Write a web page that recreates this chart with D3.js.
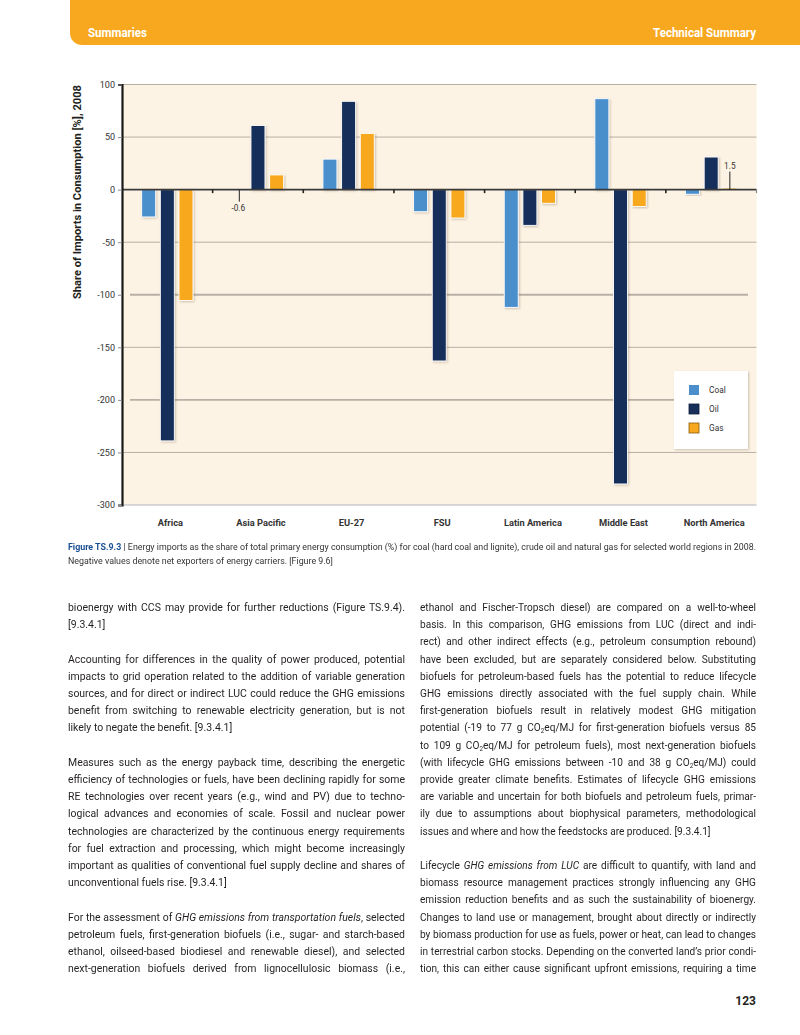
<!DOCTYPE html>
<html><head><meta charset="utf-8">
<script src="https://cdn.jsdelivr.net/npm/d3@7"></script>
<style>
html,body{margin:0;padding:0;background:#fff;}
body{width:800px;height:1035px;position:relative;overflow:hidden;}
#chart{position:absolute;left:0;top:0;}
.txt{position:absolute;font-family:Roboto,"Noto Sans",sans-serif;color:#231f20;transform-origin:0 0;}
.txt div{white-space:nowrap;}
.col{font-size:11.3px;line-height:17.2px;}
.cap{font-size:9px;line-height:14px;color:#333;}
sub{font-size:0.62em;vertical-align:-0.35em;line-height:0;}
</style></head>
<body>
<svg id="chart" width="800" height="590"></svg>
<div class="txt cap fit" data-w="688" style="left:68px;top:540px;">
<div class="j"><b style="color:#1b4f93">Figure TS.9.3</b> | Energy imports as the share of total primary energy consumption (%) for coal (hard coal and lignite), crude oil and natural gas for selected world regions in 2008.</div>
<div>Negative values denote net exporters of energy carriers. [Figure 9.6]</div>
</div>
<div class="txt col fit" data-w="337" style="left:68px;top:599px;">
<div class="j">bioenergy with CCS may provide for further reductions (Figure TS.9.4).</div>
<div>[9.3.4.1]</div>
<div>&nbsp;</div>
<div class="j">Accounting for differences in the quality of power produced, potential</div>
<div class="j">impacts to grid operation related to the addition of variable generation</div>
<div class="j">sources, and for direct or indirect LUC could reduce the GHG emissions</div>
<div class="j">benefit from switching to renewable electricity generation, but is not</div>
<div>likely to negate the benefit. [9.3.4.1]</div>
<div>&nbsp;</div>
<div class="j">Measures such as the energy payback time, describing the energetic</div>
<div class="j">efficiency of technologies or fuels, have been declining rapidly for some</div>
<div class="j">RE technologies over recent years (e.g., wind and PV) due to techno-</div>
<div class="j">logical advances and economies of scale. Fossil and nuclear power</div>
<div class="j">technologies are characterized by the continuous energy requirements</div>
<div class="j">for fuel extraction and processing, which might become increasingly</div>
<div class="j">important as qualities of conventional fuel supply decline and shares of</div>
<div>unconventional fuels rise. [9.3.4.1]</div>
<div>&nbsp;</div>
<div class="j">For the assessment of <i>GHG emissions from transportation fuels</i>, selected</div>
<div class="j">petroleum fuels, first-generation biofuels (i.e., sugar- and starch-based</div>
<div class="j">ethanol, oilseed-based biodiesel and renewable diesel), and selected</div>
<div class="j">next-generation biofuels derived from lignocellulosic biomass (i.e.,</div>
</div>
<div class="txt col fit" data-w="336" style="left:420px;top:599px;">
<div class="j">ethanol and Fischer-Tropsch diesel) are compared on a well-to-wheel</div>
<div class="j">basis. In this comparison, GHG emissions from LUC (direct and indi-</div>
<div class="j">rect) and other indirect effects (e.g., petroleum consumption rebound)</div>
<div class="j">have been excluded, but are separately considered below. Substituting</div>
<div class="j">biofuels for petroleum-based fuels has the potential to reduce lifecycle</div>
<div class="j">GHG emissions directly associated with the fuel supply chain. While</div>
<div class="j">first-generation biofuels result in relatively modest GHG mitigation</div>
<div class="j">potential (-19 to 77 g CO<sub>2</sub>eq/MJ for first-generation biofuels versus 85</div>
<div class="j">to 109 g CO<sub>2</sub>eq/MJ for petroleum fuels), most next-generation biofuels</div>
<div class="j">(with lifecycle GHG emissions between -10 and 38 g CO<sub>2</sub>eq/MJ) could</div>
<div class="j">provide greater climate benefits. Estimates of lifecycle GHG emissions</div>
<div class="j">are variable and uncertain for both biofuels and petroleum fuels, primar-</div>
<div class="j">ily due to assumptions about biophysical parameters, methodological</div>
<div>issues and where and how the feedstocks are produced. [9.3.4.1]</div>
<div>&nbsp;</div>
<div class="j">Lifecycle <i>GHG emissions from LUC</i> are difficult to quantify, with land and</div>
<div class="j">biomass resource management practices strongly influencing any GHG</div>
<div class="j">emission reduction benefits and as such the sustainability of bioenergy.</div>
<div class="j">Changes to land use or management, brought about directly or indirectly</div>
<div class="j">by biomass production for use as fuels, power or heat, can lead to changes</div>
<div class="j">in terrestrial carbon stocks. Depending on the converted land’s prior condi-</div>
<div class="j">tion, this can either cause significant upfront emissions, requiring a time</div>
</div>
<div class="txt" style="left:700px;top:994px;width:56px;text-align:right;font-weight:bold;font-size:12px;">123</div>
<script>
const regions = ["Africa","Asia Pacific","EU-27","FSU","Latin America","Middle East","North America"];
const seriesNames = ["Coal","Oil","Gas"];
const coal = [-26, -0.6, 29, -21, -112, 86.5, -4.4];
const oil  = [-239, 61, 84, -163, -34, -280, 31];
const gas  = [-105.5, 14, 53.5, -27, -13, -16, 1.5];
const yTicks = [100, 50, 0, -50, -100, -150, -200, -250, -300];
const colors = {Coal:"#4a8fcc", Oil:"#172f5a", Gas:"#f7a81f"};

// fit text columns: uniform horizontal condensing + manual justification
document.querySelectorAll(".fit").forEach(col => {
  const W = +col.dataset.w;
  const lines = Array.from(col.children);
  lines.forEach(d => { d.style.width = "max-content"; });
  const widths = lines.map(d => d.getBoundingClientRect().width);
  let s = 1;
  lines.forEach((d,i) => { if (d.classList.contains("j")) s = Math.min(s, W / (widths[i] + 1)); });
  col.style.transform = `scaleX(${s})`;
  const Wi = W / s;
  lines.forEach((d,i) => {
    if (!d.classList.contains("j")) return;
    const n = (d.textContent.trim().match(/ /g) || []).length;
    if (n > 0) d.style.wordSpacing = ((Wi - widths[i]) / n) + "px";
  });
});

const svg = d3.select("#chart");
const FONT = 'Roboto,"Noto Sans",sans-serif';

// header
svg.append("path")
  .attr("d","M70,0 H800 V45 H82 A12,12 0 0 1 70,33 Z")
  .attr("fill","#f8a81e");
svg.append("text").attr("x",88).attr("y",37).text("Summaries")
  .attr("fill","#fff").attr("font-family",FONT).attr("font-weight","bold").attr("font-size",12)
  .attr("textLength",59).attr("lengthAdjust","spacingAndGlyphs");
svg.append("text").attr("x",653).attr("y",37).text("Technical Summary")
  .attr("fill","#fff").attr("font-family",FONT).attr("font-weight","bold").attr("font-size",12)
  .attr("textLength",103).attr("lengthAdjust","spacingAndGlyphs");

const defs = svg.append("defs");
const f = defs.append("filter").attr("id","sh").attr("x","-30%").attr("y","-10%").attr("width","170%").attr("height","130%");
f.append("feDropShadow").attr("dx",1).attr("dy",1).attr("stdDeviation",1.3).attr("flood-color","#6b5a45").attr("flood-opacity",0.35);

const x0 = 122, x1 = 756.5;
const x = d3.scaleBand().domain(regions).range([x0, x1]);
const xi = d3.scaleBand().domain(seriesNames).range([-28, 28]).paddingInner(0.25).paddingOuter(0.125);
const y = d3.scaleLinear().domain([-300, 100]).range([505, 84.5]);

// background
svg.append("rect").attr("x",x0).attr("y",y(100)).attr("width",x1-x0).attr("height",y(-300)-y(100)).attr("fill","#fdf3e4");

// gridlines
yTicks.filter(t => t !== 0).forEach(t => {
  const thick = (t === -100 || t === -200);
  svg.append("line")
    .attr("x1", thick ? 130 : x0).attr("x2", thick ? 748 : x1)
    .attr("y1", y(t)).attr("y2", y(t))
    .attr("stroke", t === -300 ? "#b4b4bc" : "#b8afa6")
    .attr("stroke-width", thick ? 1.8 : 1);
});

// bars
const series = {Coal: coal, Oil: oil, Gas: gas};
seriesNames.forEach(s => {
  svg.append("g").selectAll("rect").data(regions).join("rect")
    .attr("x", (r) => x(r) + x.bandwidth()/2 + xi(s))
    .attr("width", xi.bandwidth())
    .attr("y", (r,i) => y(Math.max(0, series[s][i])))
    .attr("height", (r,i) => Math.abs(y(series[s][i]) - y(0)))
    .attr("fill", colors[s])
    .attr("stroke", "#fff").attr("stroke-width", 0.9)
    .attr("filter","url(#sh)");
});

// zero axis with category ticks
svg.append("line").attr("x1",x0).attr("x2",x1).attr("y1",y(0)).attr("y2",y(0))
  .attr("stroke","#3a3a3a").attr("stroke-width",1.6);
regions.forEach((r,i) => {
  if (i === 0) return;
  svg.append("line").attr("x1",x(r)).attr("x2",x(r)).attr("y1",y(0)).attr("y2",y(0)+3.5)
    .attr("stroke","#222").attr("stroke-width",1.6);
});
svg.append("line").attr("x1",x1).attr("x2",x1).attr("y1",y(0)).attr("y2",y(0)+3.5)
  .attr("stroke","#888").attr("stroke-width",1.2);

// y axis
const yAxis = d3.axisLeft(y).tickValues(yTicks).tickSize(4).tickPadding(3).tickFormat(d => String(d));
const ga = svg.append("g").attr("transform",`translate(${x0},0)`).call(yAxis);
ga.select(".domain").attr("stroke","#1a1a1a").attr("stroke-width",2.2);
ga.selectAll(".tick line").attr("stroke","#8a8a8a");
ga.selectAll("text").attr("font-family",FONT).attr("font-size",9).attr("fill","#333");

// y title
svg.append("text").attr("transform","translate(81,192) rotate(-90)").attr("text-anchor","middle")
  .text("Share of Imports in Consumption [%], 2008")
  .attr("font-family",FONT).attr("font-weight","bold").attr("font-size",11).attr("fill","#231f20")
  .attr("textLength",214).attr("lengthAdjust","spacingAndGlyphs");

// x labels
svg.append("g").selectAll("text").data(regions).join("text")
  .attr("x", r => x(r) + x.bandwidth()/2 + 3).attr("y", 526)
  .attr("text-anchor","middle").text(r => r)
  .attr("font-family",FONT).attr("font-weight","bold").attr("font-size",9.3).attr("fill","#333");

// annotations for tiny values
const ax1 = x("Asia Pacific") + x.bandwidth()/2 + xi("Coal") + xi.bandwidth()/2;
svg.append("line").attr("x1",ax1).attr("x2",ax1).attr("y1",y(0)).attr("y2",y(0)+12).attr("stroke","#222").attr("stroke-width",1);
svg.append("text").attr("x",ax1-1).attr("y",y(0)+21).attr("text-anchor","middle").text(String(coal[1]))
  .attr("font-family",FONT).attr("font-size",8.3).attr("fill","#333");
const ax2 = x("North America") + x.bandwidth()/2 + xi("Gas") + xi.bandwidth()/2;
svg.append("line").attr("x1",ax2).attr("x2",ax2).attr("y1",y(0)).attr("y2",y(0)-18).attr("stroke","#222").attr("stroke-width",1);
svg.append("text").attr("x",ax2).attr("y",y(0)-21).attr("text-anchor","middle").text(String(gas[6]))
  .attr("font-family",FONT).attr("font-size",8.3).attr("fill","#333");

// legend
const lg = svg.append("g").attr("transform","translate(674,371)");
lg.append("rect").attr("width",74).attr("height",78).attr("fill","#fff").attr("filter","url(#sh)");
seriesNames.forEach((s,i) => {
  const yy = 19 + i*19;
  lg.append("rect").attr("x",15).attr("y",yy-5).attr("width",10).attr("height",10)
    .attr("fill",colors[s]).attr("stroke", s==="Gas" ? "#8a5a10" : (s==="Oil" ? "#0e1d3a":"none")).attr("stroke-width",0.8);
  lg.append("text").attr("x",35).attr("y",yy+3).text(s)
    .attr("font-family",FONT).attr("font-size",8.3).attr("fill","#333");
});
</script>
</body></html>
